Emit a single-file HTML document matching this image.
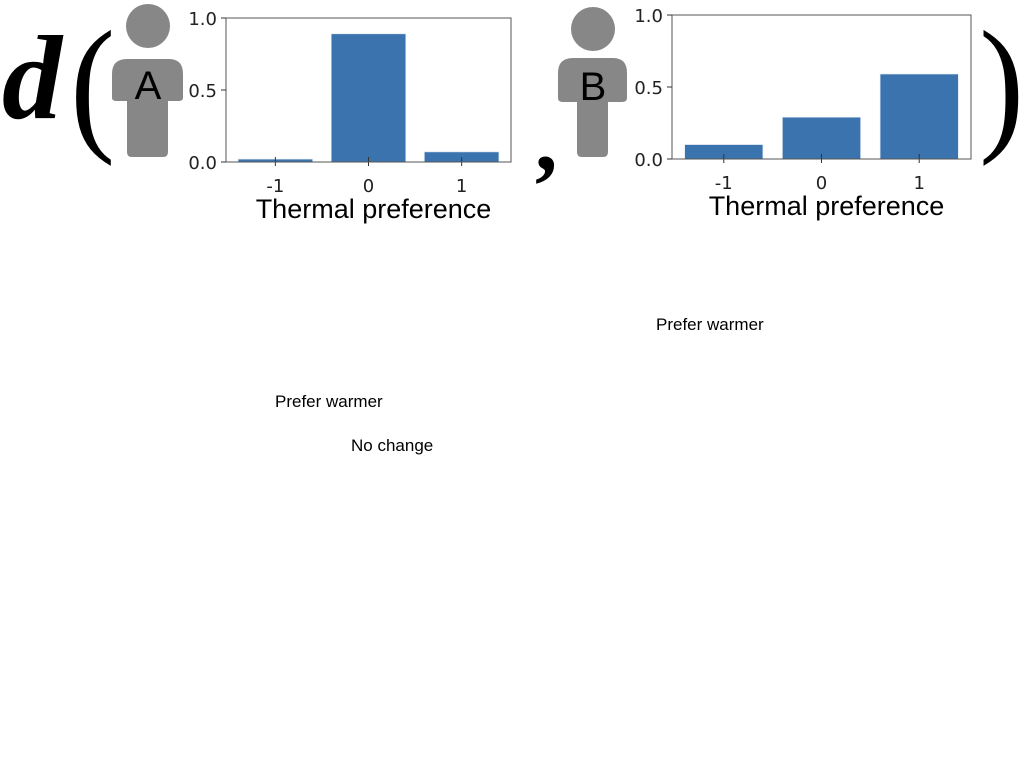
<!DOCTYPE html>
<html><head><meta charset="utf-8"><style>
body{margin:0;background:#fff;width:1024px;height:768px;overflow:hidden;position:relative;font-family:"Liberation Sans",sans-serif}
.lbl{position:absolute;font-size:17px;color:#000}
</style></head><body>
<svg id="svg" width="1024" height="768" style="position:absolute;left:0;top:0">
  <text x="2" y="118" font-family="Liberation Serif, serif" font-style="italic" font-weight="bold" font-size="120">d</text>
  <text x="78" y="134" font-family="Liberation Serif, serif" font-size="150" transform="scale(0.9,1)">(</text>
  <g fill="#878787">
    <circle cx="148" cy="26" r="22"/>
    <path d="M127,59 H169 Q183,59 183,74 V98 Q183,101 178,101 H168 V152 Q168,157 163,157 H132 Q127,157 127,152 V101 H117 Q112,101 112,98 V74 Q112,59 127,59 Z"/>
  </g>
  <text x="148" y="99" text-anchor="middle" font-family="Liberation Sans, sans-serif" font-size="40">A</text>
  <text x="535" y="170" font-family="Liberation Serif, serif" font-weight="bold" font-size="90">,</text>
  <g fill="#878787">
    <circle cx="593" cy="29" r="22"/>
    <path d="M573,58 H613 Q627,58 627,73 V98 Q627,102 622,102 H608 V152 Q608,157 603,157 H582 Q577,157 577,152 V102 H563 Q558,102 558,98 V73 Q558,58 573,58 Z"/>
  </g>
  <text x="593" y="100" text-anchor="middle" font-family="Liberation Sans, sans-serif" font-size="40">B</text>
  <text x="1088" y="134" font-family="Liberation Serif, serif" font-size="150" transform="scale(0.9,1)">)</text>
  <g id="chartA"></g>
  <g id="chartB"></g>
</svg>
<div class="lbl" style="left:656px;top:315px">Prefer warmer</div>
<div class="lbl" style="left:275px;top:392px">Prefer warmer</div>
<div class="lbl" style="left:351px;top:436px">No change</div>
<script>
const categories = ["-1", "0", "1"];
const valuesA = [0.02, 0.89, 0.07];
const valuesB = [0.10, 0.29, 0.59];
const yTicks = [0.0, 0.5, 1.0];
const yTickLabels = ["0.0", "0.5", "1.0"];
const NS = "http://www.w3.org/2000/svg";
function mk(tag, attrs, parent){const e=document.createElementNS(NS,tag);for(const k in attrs)e.setAttribute(k,attrs[k]);parent.appendChild(e);return e;}
function draw(gid, vals, L, R, T, B, barFrac, suffix){
  const g=document.getElementById(gid);
  const xpos=i=>L+((i-1)+1.53)/3.06*(R-L);
  const ys=v=>B-v*(B-T);
  const step=(R-L)/3.06;
  vals.forEach((v,i)=>{
    const w=step*barFrac;
    const r=mk("rect",{x:xpos(i)-w/2,y:ys(v),width:w,height:B-ys(v),fill:"#3a73ae",stroke:"#dbe6f2","stroke-width":0.6},g);
    
    
    mk("line",{x1:xpos(i),x2:xpos(i),y1:B-5,y2:B+4,stroke:"#333","stroke-width":1},g);
    const t=mk("text",{x:xpos(i),y:B+30,"text-anchor":"middle","font-family":"DejaVu Sans, sans-serif","font-size":18,fill:"#222"},g);
    t.textContent=categories[i];
    
    
  });
  mk("rect",{x:L,y:T,width:R-L,height:B-T,fill:"none",stroke:"#555","stroke-width":1},g);
  yTicks.forEach((v,i)=>{
    mk("line",{x1:L-5,x2:L,y1:ys(v),y2:ys(v),stroke:"#333","stroke-width":1},g);
    const t=mk("text",{x:L-9,y:ys(v)+7,"text-anchor":"end","font-family":"DejaVu Sans, sans-serif","font-size":18,fill:"#222"},g);
    t.textContent=yTickLabels[i];
    
    
  });
  const xt=mk("text",{x:(L+R)/2+5,y:B+56,"text-anchor":"middle","font-family":"Liberation Sans, sans-serif","font-size":27,fill:"#000"},g);
  xt.textContent="Thermal preference";
  
  
}
draw("chartA", valuesA, 226, 511, 18, 162, 0.8, "a");
draw("chartB", valuesB, 672, 971, 15, 159, 0.8, "b");
</script>
</body></html>
